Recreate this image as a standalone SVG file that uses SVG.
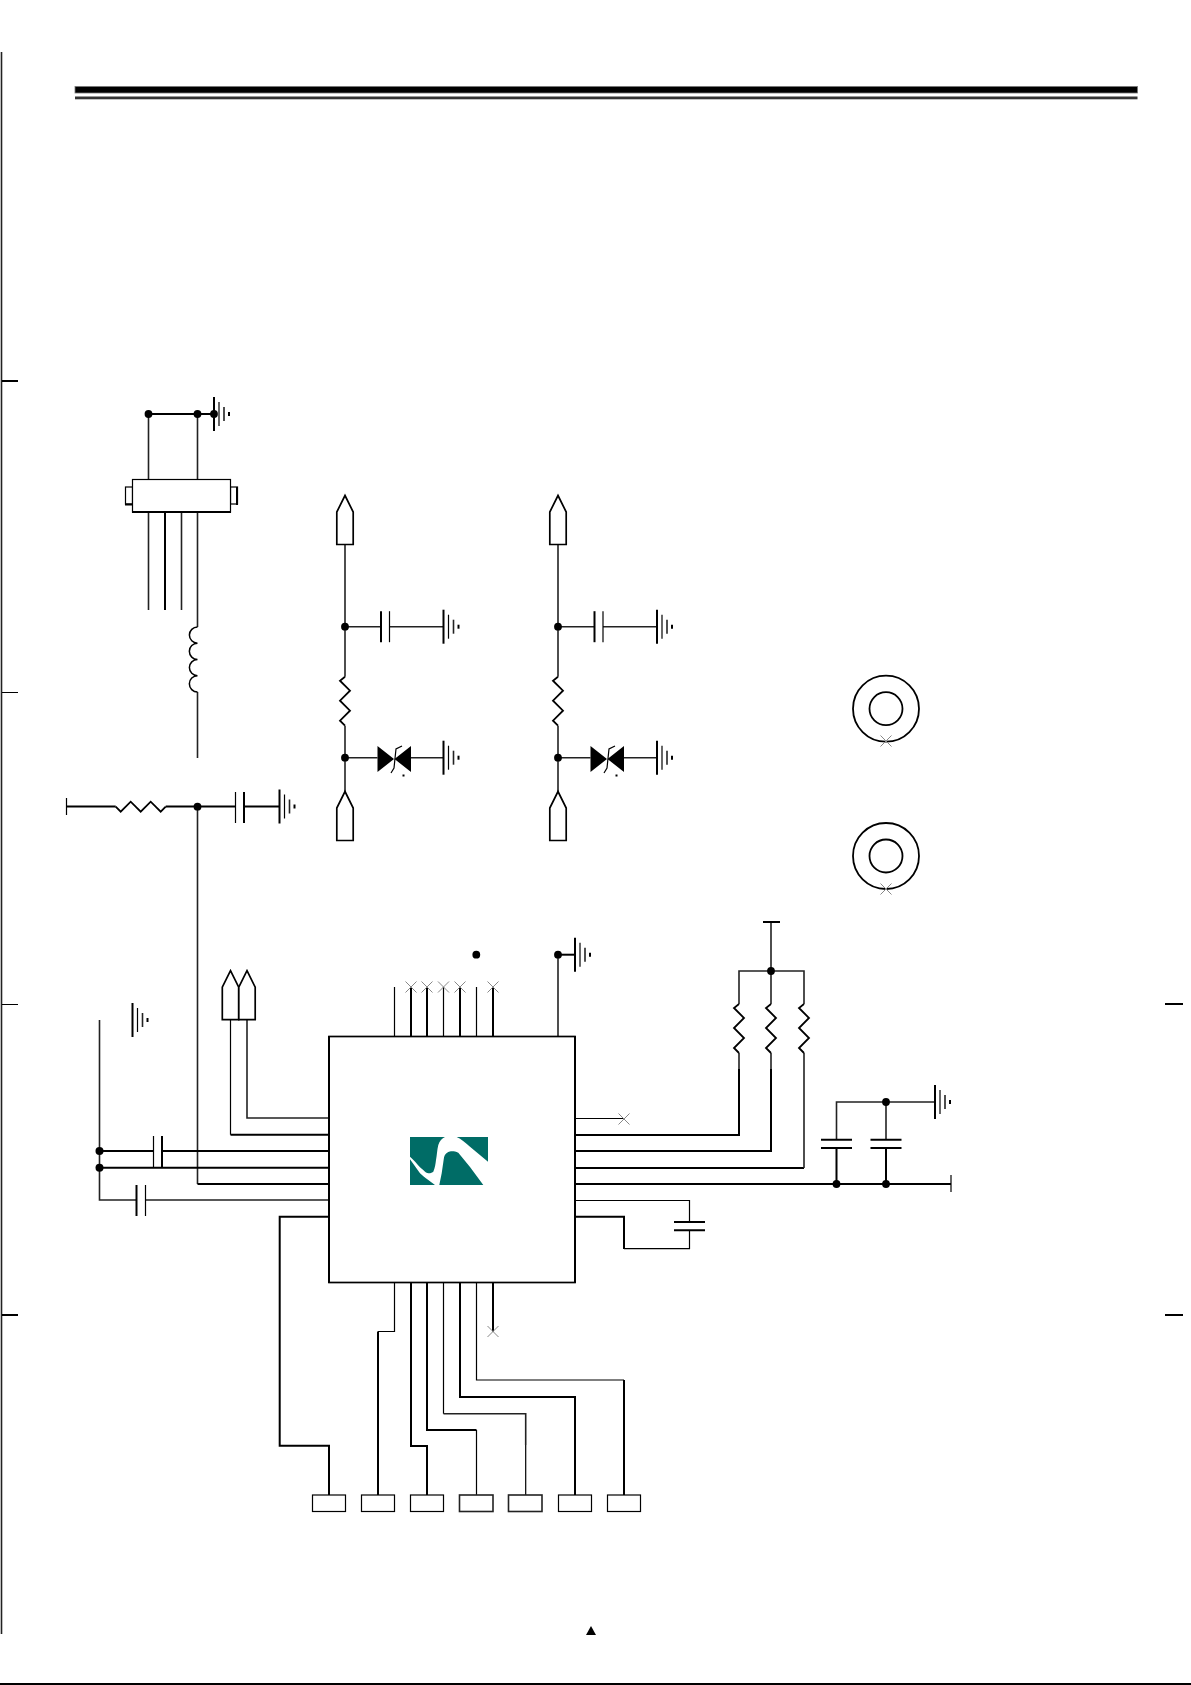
<svg xmlns="http://www.w3.org/2000/svg" width="1191" height="1685" viewBox="0 0 1191 1685">
<style>
.n{fill:none;stroke:#000;stroke-width:1.2}
.b{fill:none;stroke:#000;stroke-width:2}
.m{fill:none;stroke:#222;stroke-width:1.6}
.z{fill:none;stroke:#000;stroke-width:1.8}
.x{fill:none;stroke:#888;stroke-width:1}
.s{fill:#fff;stroke:#000;stroke-width:1.7}
.d{fill:#000;stroke:none}
</style>
<defs>
<g id="gnd"><path class="b" d="M0-17V17"/><path class="n" d="M5-12V12"/><path class="m" d="M10-7V7"/><path class="b" d="M15-2V2"/></g>
<path id="rv" class="z" d="M0 0L-5 4 5 14-5 24 5 34-5 44 0 49"/>
<path id="rh" class="z" d="M0 0L5 5 15-5 25 5 35-5 45 5 50 0"/>
<path id="conn" class="s" d="M0 0L8.2 16.5V49H-8.2V16.5Z"/>
<path id="cross" class="x" d="M-5.5-5.5L5.5 5.5M-5.5 5.5L5.5-5.5"/>
<g id="capv"><path class="b" d="M0-15.5V15.5"/><path class="n" d="M8.5-15.5V15.5"/></g>
<g id="capw"><path class="n" d="M0-15.5V15.5"/><path class="b" d="M8.5-15.5V15.5"/></g>
<g id="caph"><path class="b" d="M-15.5 0H15.5M-15.5 8.2H15.5"/></g>
<g id="zener"><path class="d" d="M0-13L16.5 0 0 13ZM33.5-13L17 0 33.5 13Z"/><path class="n" d="M24.5-13L18.5-10 16.5 9 13.5 14"/><path class="b" d="M25 16.5H27"/></g>
</defs>
<rect width="1191" height="1685" fill="#fff"/>

<g id="frame">
<path class="m" d="M1.5 52V1634"/>
<path class="b" d="M2 381H18M2 1315H18M1165 1004H1183M1165 1315H1183"/>
<path class="n" d="M2 692.5H18M2 1004.5H18"/>
<rect x="75" y="86.5" width="1062.5" height="6.5" fill="#000" stroke="#777" stroke-width="0.8"/>
<rect x="75" y="96.5" width="1062.5" height="2.8" fill="#333"/>
<path class="b" d="M0 1684H1191"/>
<path class="d" d="M591 1626L596 1635H586Z"/>
</g>

<g id="connectors">
<path class="b" d="M148.5 414H214"/>
<path class="m" d="M148.5 414V479M197.5 414V479M148.5 512V610M181.5 512V610M197.5 512V627M197.5 692V758"/>
<path class="b" d="M165 512V610"/>
<path class="b" d="M66.5 806.5H115.7M165.7 806.5H235.5M244 806.5H279.5"/>
<path class="m" d="M197.5 806.5V1184"/>

<path class="m" d="M345 544.5V676.7M345 725.7V791.7M558 544.5V676.7M558 725.7V791.7"/>
<path class="m" d="M345 626.7H381M389.5 626.7H443.5M345 757.7H377.5M411 757.7H443.5"/>
<path class="m" d="M558 626.7H594.5M603 626.7H657M558 757.7H590.5M624 757.7H657"/>

<path class="m" d="M99.5 1020V1200H136.5M145 1200H329"/>
<path class="b" d="M99.5 1151H153.5M162 1151H329M99.5 1167.7H329"/>
<path class="b" d="M197.5 1184H329M230.5 1134.7H329"/>
<path class="n" d="M230.5 1020V1134.7"/>
<path class="m" d="M247 1020V1118H329"/>
<path class="b" d="M329 1216.7H279.7V1445.7H329V1495"/>

<path class="n" d="M394.5 987V1036M443.5 987V1036M476.5 987V1036"/>
<path class="b" d="M411 987V1036M427 987V1036M460 987V1036M493 987V1036"/>
<path class="m" d="M558 954.7V1036"/>
<path class="b" d="M558 954.7H575"/>

<path class="n" d="M575 1118.5H624"/>
<path class="b" d="M575 1135H739V1069M575 1151H771V1069M575 1168H804M575 1184H951"/>
<path class="m" d="M739 1004V971H804V1004M771 922V1004M804 1053V1168"/>
<path class="m" d="M739 1053V1069M771 1053V1069"/>
<path class="m" d="M836.5 1139.7V1102H935M886 1102V1139.7"/>
<path class="b" d="M836.5 1148V1184M886 1148V1184"/>
<path class="n" d="M575 1200.5H689.5V1222M689.5 1230V1248.7H624"/>
<path class="b" d="M575 1216.7H624V1249"/>

<path class="n" d="M394.5 1282V1331.5H378"/>
<path class="b" d="M378 1331.5V1495M411 1282V1446H427V1495M427 1282V1430H476.5"/>
<path class="n" d="M476.5 1430V1495M443.5 1282V1413.7M525.7 1445V1495M476.5 1282V1380H624"/>
<path class="m" d="M443.5 1413.7H525.7V1445"/>
<path class="b" d="M460 1282V1397H575V1495M624 1380V1495M493 1282V1331.5"/>

<g class="d">
<circle cx="148.5" cy="414" r="3.9"/><circle cx="197.5" cy="414" r="3.9"/><circle cx="214" cy="414" r="3.9"/>
<circle cx="197.5" cy="806.7" r="3.9"/>
<circle cx="345" cy="626.7" r="3.9"/><circle cx="345" cy="757.7" r="3.9"/>
<circle cx="558" cy="626.7" r="3.9"/><circle cx="558" cy="757.7" r="3.9"/>
<circle cx="99.5" cy="1151" r="4"/><circle cx="99.5" cy="1167.7" r="4"/>
<circle cx="476.3" cy="954.7" r="3.9"/><circle cx="558" cy="954.7" r="3.9"/>
<circle cx="771" cy="971" r="3.9"/><circle cx="886" cy="1102" r="3.9"/>
<circle cx="836.5" cy="1184" r="3.9"/><circle cx="886" cy="1184" r="3.9"/>
</g>
</g>

<g id="switch">
<rect class="n" x="125.5" y="487" width="7" height="17"/>
<rect class="n" x="230.5" y="487" width="7" height="17"/>
<rect class="n" x="132.5" y="479.5" width="98" height="32.5" style="fill:#fff"/>
<path class="b" d="M132 512H231M237 487V505M125 504.5H132"/>
</g>
<g id="gnd-1"><use href="#gnd" x="214" y="414"/></g>
<g id="inductor"><path class="z" style="stroke-width:1.5" d="M197.5 627A8.1 8.1 0 0 0 197.5 643.2A8.1 8.1 0 0 0 197.5 659.5A8.1 8.1 0 0 0 197.5 675.7A8.1 8.1 0 0 0 197.5 692"/></g>
<g id="r-1"><use href="#rh" x="115.7" y="806.7"/><path class="n" d="M66.5 798V815"/></g>
<g id="c-1"><use href="#capw" x="235.5" y="807.5"/></g>
<g id="gnd-2"><use href="#gnd" x="279.5" y="806.5"/></g>

<g id="conn-a"><use href="#conn" x="345" y="495.5"/></g>
<g id="c-a"><use href="#capv" x="381" y="626.7"/></g>
<g id="gnd-a1"><use href="#gnd" x="443.5" y="626.7"/></g>
<g id="r-a"><use href="#rv" x="345" y="676.7"/></g>
<g id="d-a"><use href="#zener" x="377.5" y="759"/></g>
<g id="gnd-a2"><use href="#gnd" x="443.5" y="757.7"/></g>
<g id="conn-b"><use href="#conn" x="345" y="791.5"/></g>

<g id="conn-c"><use href="#conn" x="558" y="495.5"/></g>
<g id="c-c"><use href="#capv" x="594.5" y="626.7"/></g>
<g id="gnd-c1"><use href="#gnd" x="657" y="626.7"/></g>
<g id="r-c"><use href="#rv" x="558" y="676.7"/></g>
<g id="d-c"><use href="#zener" x="590.5" y="759"/></g>
<g id="gnd-c2"><use href="#gnd" x="657" y="757.7"/></g>
<g id="conn-d"><use href="#conn" x="558" y="791.5"/></g>

<g id="hole-1"><circle class="z" cx="886" cy="708.7" r="33"/><circle class="z" cx="886" cy="708.7" r="16.5"/><use href="#cross" x="886" y="741"/></g>
<g id="hole-2"><circle class="z" cx="886" cy="856" r="33"/><circle class="z" cx="886" cy="856" r="16.5"/><use href="#cross" x="886" y="889"/></g>

<g id="gnd-3"><use href="#gnd" x="132.5" y="1020"/></g>
<g id="conn-e"><use href="#conn" x="230.5" y="970.7"/></g>
<g id="conn-f"><use href="#conn" x="247" y="970.7"/></g>
<g id="c-2"><use href="#capw" x="153.5" y="1151.5"/></g>
<g id="c-3"><path class="b" d="M136.5 1185V1216"/><path class="n" d="M145.5 1185V1216"/></g>

<g id="ic">
<rect class="s" x="329" y="1036.5" width="246" height="246"/>
<path class="b" d="M329 1036V1283M575 1036V1283"/>
<rect x="410" y="1137" width="78" height="48" fill="#006c66"/>
<path fill="#fff" d="M410 1156.7C415 1161 420 1167.3 420 1167.3C424 1170.5 426 1173.3 428.3 1173.3C431 1173.3 432.5 1172.5 433.3 1171.7C435 1168 435.5 1164 436 1160C437 1155 437 1150 438.3 1145C439.5 1141 442 1138.5 445 1137H456.7C461 1139 466 1143 470 1146.7L488 1161.7V1185H483.3L470 1167L458.3 1152.7C454 1150.5 450 1151 448.3 1152C446 1153 444.5 1155 444 1157.5L441.7 1173.3L439.3 1185H435L428.3 1180C425 1178 422 1175 420 1173.3L410 1159.3Z"/>
</g>
<g id="nc-top">
<use href="#cross" x="411" y="987"/><use href="#cross" x="427" y="987"/><use href="#cross" x="443.5" y="987"/><use href="#cross" x="460" y="987"/><use href="#cross" x="493" y="987"/>
</g>
<g id="gnd-4"><use href="#gnd" x="575" y="954.7"/></g>
<g id="nc-right"><use href="#cross" x="624" y="1119"/></g>
<g id="nc-bottom"><use href="#cross" x="493" y="1331.5"/></g>

<g id="vcc"><path class="b" d="M763 922H780"/></g>
<g id="r-2"><use href="#rv" x="739" y="1004"/></g>
<g id="r-3"><use href="#rv" x="771" y="1004"/></g>
<g id="r-4"><use href="#rv" x="804" y="1004"/></g>
<g id="gnd-5"><use href="#gnd" x="935" y="1102"/></g>
<g id="c-4"><use href="#caph" x="836.5" y="1139.7"/></g>
<g id="c-5"><use href="#caph" x="886" y="1139.7"/></g>
<g id="term"><path class="n" d="M951 1175V1192"/></g>
<g id="c-6"><use href="#caph" x="689.5" y="1222"/></g>

<g id="pad-1"><rect class="n" x="312.5" y="1495" width="33" height="16.5" style="fill:#fff"/></g>
<g id="pad-2"><rect class="n" x="361.5" y="1495" width="33" height="16.5" style="fill:#fff"/></g>
<g id="pad-3"><rect class="n" x="410.5" y="1495" width="33" height="16.5" style="fill:#fff"/></g>
<g id="pad-4"><rect class="m" x="459.5" y="1495" width="33.5" height="16.5" style="fill:#fff"/></g>
<g id="pad-5"><rect class="m" x="508.5" y="1495" width="33.5" height="16.5" style="fill:#fff"/></g>
<g id="pad-6"><rect class="n" x="558.5" y="1495" width="33" height="16.5" style="fill:#fff"/></g>
<g id="pad-7"><rect class="n" x="607.5" y="1495" width="33" height="16.5" style="fill:#fff"/></g>
</svg>
